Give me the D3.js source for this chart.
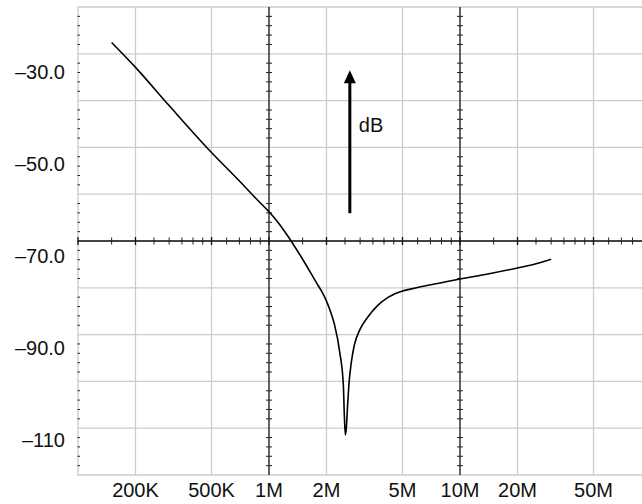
<!DOCTYPE html>
<html>
<head>
<meta charset="utf-8">
<script src="https://cdn.jsdelivr.net/npm/d3@7"></script>
<style>
  body { margin: 0; background: #fff; }
  svg { display: block; font-family: "Liberation Sans", Arial, sans-serif; }
</style>
</head>
<body>
<svg id="chart"></svg>
<script>
// frequency response (Hz, dB)
const freqs = [1.5e5, 2e5, 3e5, 5e5, 7e5, 8.5e5, 1e6, 1.1e6, 1.2e6, 1.5e6, 1.8e6, 1.9e6, 2e6, 2.1e6, 2.2e6, 2.35e6, 2.45e6, 2.48e6, 2.51e6,
    2.54e6, 2.58e6, 2.62e6, 2.7e6, 2.8e6, 3e6, 3.3e6, 3.7e6, 4.2e6, 4.6e6, 5e6, 5.5e6, 6e6, 8e6, 1e7, 1.4e7, 2e7, 2.5e7, 3e7];
const dbValues = [-23.6, -29.0, -37.3, -47.5, -53.7, -57.4, -60.4, -62.4, -64.5, -70.7, -76.3, -77.9, -79.8, -82.1, -84.8, -91.1, -98.0, -104.6, -108.9,
    -107.4, -102.4, -98.0, -93.0, -89.3, -85.9, -83.2, -80.8, -79.0, -78.15, -77.6, -77.2, -76.85, -75.8, -75.0, -73.9, -72.6, -71.7, -70.7];

const xTickValues = [2e5, 5e5, 1e6, 2e6, 5e6, 1e7, 2e7, 5e7];
const xTickLabels = ["200K", "500K", "1M", "2M", "5M", "10M", "20M", "50M"];
const majorFreqs = [1e6, 1e7];
const decades = [1e5, 1e6, 1e7];
const minorMult = [1.5, 2.5, 3, 3.5, 4, 4.5, 6, 7, 8, 9];

const yTickValues = [-30, -50, -70, -90, -110];
const yTickLabels = ["–30.0", "–50.0", "–70.0", "–90.0", "–110"];

// arrow annotation
const arrowFreq = 2.65e6;
const arrowDb = [-60.7, -29.6];
const arrowLabel = "dB";
const arrowLabelDb = -41.5;

const width = 642;
const height = 504;
const plot = { left: 77.5, top: 7, right: 642, bottom: 475 };

const svg = d3.select("#chart").attr("width", width).attr("height", height);
svg.append("rect").attr("width", width).attr("height", height).attr("fill", "#fff");

const x = d3.scaleLog().domain([1e5, 1e7]).range([78, 460]);
const y = d3.scaleLinear().domain([-30, -110]).range([72, 440]);
// graticule: 10 divisions, 5 minor steps each
const div = d3.scaleLinear().domain([0, 10]).range([plot.top, plot.bottom]);

const gridColor = "#c8cfca";

// horizontal grid
svg.append("g").selectAll("line").data(d3.range(0, 11)).enter().append("line")
    .attr("x1", plot.left).attr("x2", plot.right)
    .attr("y1", d => div(d)).attr("y2", d => div(d))
    .attr("stroke", gridColor).attr("stroke-width", 1.3);

// vertical grid
const vGrid = [1e5].concat(xTickValues.filter(f => !majorFreqs.includes(f)));
svg.append("g").selectAll("line").data(vGrid).enter().append("line")
    .attr("x1", d => x(d)).attr("x2", d => x(d))
    .attr("y1", plot.top).attr("y2", plot.bottom)
    .attr("stroke", gridColor).attr("stroke-width", 1.3);

// left edge small ticks
const minorDivs = d3.range(0, 50).filter(i => i % 5 !== 0).map(i => i / 5);
svg.append("g").selectAll("line").data(minorDivs).enter().append("line")
    .attr("x1", plot.left).attr("x2", plot.left + 2.5)
    .attr("y1", d => div(d)).attr("y2", d => div(d))
    .attr("stroke", "#222").attr("stroke-width", 1);

// main axes: 1M and 10M vertical, center horizontal
svg.append("g").selectAll("line").data(majorFreqs).enter().append("line")
    .attr("x1", d => x(d)).attr("x2", d => x(d))
    .attr("y1", plot.top).attr("y2", plot.bottom)
    .attr("stroke", "#222").attr("stroke-width", 1.4);

majorFreqs.forEach(f => {
    svg.append("g").selectAll("line").data(minorDivs).enter().append("line")
        .attr("x1", x(f) - 3).attr("x2", x(f) + 3)
        .attr("y1", d => div(d)).attr("y2", d => div(d))
        .attr("stroke", "#222").attr("stroke-width", 1);
});

svg.append("line")
    .attr("x1", plot.left).attr("x2", plot.right)
    .attr("y1", div(5)).attr("y2", div(5))
    .attr("stroke", "#111").attr("stroke-width", 1.4);

const minorFreqs = [];
decades.forEach(d => minorMult.forEach(m => minorFreqs.push(d * m)));
svg.append("g").selectAll("line").data(minorFreqs.filter(f => x(f) < plot.right)).enter().append("line")
    .attr("x1", d => x(d)).attr("x2", d => x(d))
    .attr("y1", div(5) - 3.5).attr("y2", div(5) + 3.5)
    .attr("stroke", "#222").attr("stroke-width", 1);
svg.append("g").selectAll("line").data([1e5].concat(xTickValues)).enter().append("line")
    .attr("x1", d => x(d)).attr("x2", d => x(d))
    .attr("y1", div(5) - 4).attr("y2", div(5) + 4)
    .attr("stroke", "#111").attr("stroke-width", 1.3);

// curve
const points = freqs.map((f, i) => ({ f: f, db: dbValues[i] }));
const line = d3.line().x(d => x(d.f)).y(d => y(d.db)).curve(d3.curveMonotoneX);
svg.append("path").datum(points)
    .attr("fill", "none").attr("stroke", "#000").attr("stroke-width", 1.6)
    .attr("stroke-linejoin", "round")
    .attr("d", line);

// arrow
const ax = x(arrowFreq);
svg.append("line")
    .attr("x1", ax).attr("x2", ax)
    .attr("y1", y(arrowDb[0])).attr("y2", y(arrowDb[1]) + 10)
    .attr("stroke", "#000").attr("stroke-width", 3);
svg.append("path")
    .attr("d", `M${ax},${y(arrowDb[1])} L${ax - 6},${y(arrowDb[1]) + 13} L${ax + 6},${y(arrowDb[1]) + 13} Z`)
    .attr("fill", "#000");
svg.append("text")
    .attr("x", ax + 9).attr("y", y(arrowLabelDb)).attr("dy", "0.36em")
    .style("font-size", "20px").attr("fill", "#111")
    .text(arrowLabel);

// tick labels
svg.append("g").selectAll("text").data(xTickValues).enter().append("text")
    .attr("x", d => x(d)).attr("y", 497)
    .attr("text-anchor", "middle")
    .style("font-size", "20px").attr("fill", "#111")
    .text((d, i) => xTickLabels[i]);

svg.append("g").selectAll("text").data(yTickValues).enter().append("text")
    .attr("x", 65).attr("y", d => y(d)).attr("dy", "0.36em")
    .attr("text-anchor", "end")
    .style("font-size", "20px").attr("fill", "#111")
    .text((d, i) => yTickLabels[i]);
</script>
</body>
</html>
